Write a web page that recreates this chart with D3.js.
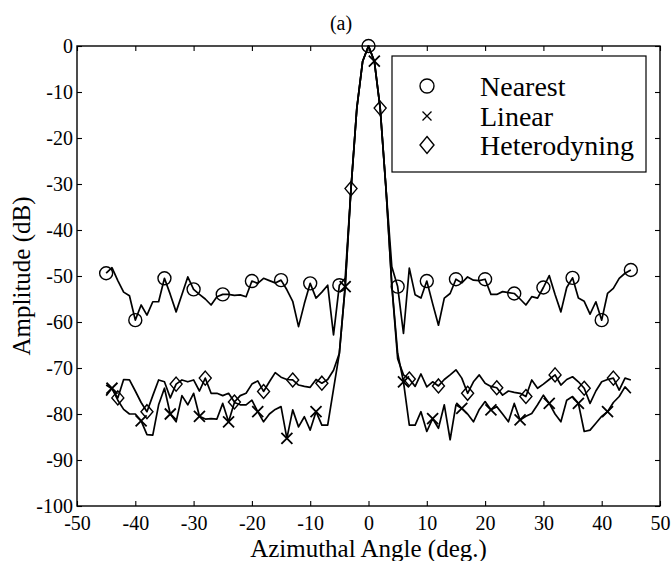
<!DOCTYPE html>
<html>
<head>
<meta charset="utf-8">
<script src="https://cdn.jsdelivr.net/npm/d3@7"></script>
<style>
  body { margin: 0; background: #fff; }
  svg { display: block; }
  svg text { font-family: "Liberation Serif", "Times New Roman", "DejaVu Serif", serif; fill: #000; }
</style>
</head>
<body>
<div id="chart"></div>
<script>
// angoli campionati (gradi)
const angles = [
  -45, -44, -43, -42, -41, -40, -39, -38, -37, -36,
  -35, -34, -33, -32, -31, -30, -29, -28, -27, -26,
  -25, -24, -23, -22, -21, -20, -19, -18, -17, -16,
  -15, -14, -13, -12, -11, -10, -9, -8, -7, -6,
  -5, -4, -3, -2, -1, 0, 1, 2, 3, 4,
  5, 6, 7, 8, 9, 10, 11, 12, 13, 14,
  15, 16, 17, 18, 19, 20, 21, 22, 23, 24,
  25, 26, 27, 28, 29, 30, 31, 32, 33, 34,
  35, 36, 37, 38, 39, 40, 41, 42, 43, 44,
  45
];

// ampiezza (dB) per ogni metodo
const nearest = [
  -49.4, -48.2, -51, -53.5, -54.3, -59.6, -56.3, -58.5, -55.6, -55.6,
  -50.5, -54, -57.8, -54, -50.2, -52.9, -54, -55, -56.3, -54.5,
  -54, -54, -54.2, -54.1, -54.5, -51.1, -51.6, -50.5, -51, -51.5,
  -50.9, -53, -55.5, -61, -56, -51.6, -54.8, -53.5, -52, -62.8,
  -52, -50.5, -31, -13.5, -3.3, 0, -3.3, -13.5, -31, -48,
  -52.3, -62.5, -48.3, -54.1, -54.8, -51.1, -56, -60.7, -54.8, -53.8,
  -50.7, -51.5, -50.2, -50.9, -51, -50.7, -54, -54, -53.4, -53.6,
  -53.8, -55, -56.3, -54.5, -54.8, -52.5, -49.9, -54, -57.8, -52.5,
  -50.4, -54.8, -55.5, -58.3, -55.6, -59.6, -53.8, -52.7, -50.5, -49.4,
  -48.7
];

const linear = [
  -76, -74.4, -77, -79, -80, -80, -81.5, -84.5, -84.6, -78,
  -74.4, -80, -81.7, -76, -78, -75.5, -80.5, -81.1, -81, -81.1,
  -77.7, -81.7, -77.5, -78, -78, -77, -79.5, -81.7, -80, -79,
  -78.4, -85.3, -79.1, -82.8, -80.6, -83.5, -79.5, -82.4, -82.4, -74.6,
  -66.8, -52.3, -31, -13.5, -3.3, 0, -3.3, -13.5, -31, -52,
  -66.8, -73, -82.4, -82.4, -79.5, -83.8, -81, -83.1, -78, -85.6,
  -78, -78.8, -80, -81.7, -79, -77.3, -79.1, -78.4, -80, -81.7,
  -77.7, -81.3, -80.5, -79.9, -78, -75.9, -77.7, -80, -81.7, -77,
  -76.2, -77.7, -83.8, -83.5, -82, -80.5, -79.5, -77.5, -76.2, -74.1,
  -75.5
];

const heterodyning = [
  -73.7, -74.5, -76.5, -72.5, -72.6, -75, -77.5, -79.5, -76, -72.6,
  -73, -76.5, -73.5, -72.6, -73, -72.6, -75, -72.2, -75.5, -75.5,
  -76, -75.5, -77.4, -76, -75.5, -73.5, -72.8, -75.1, -73, -71,
  -72, -72.5, -72.6, -73.7, -74, -74.2, -72.5, -73.3, -72.5, -70.5,
  -66.8, -52.3, -31, -13.5, -3.3, 0, -3.3, -13.5, -31, -52,
  -68, -71.5, -72.4, -74, -71.3, -74.1, -73, -73.9, -72.5, -71.5,
  -70.4, -72.2, -75.5, -73, -71.5, -73.3, -74, -74.3, -75.9, -75,
  -75.3, -75.5, -76.2, -72.6, -74.4, -73.5, -72.5, -71.5, -73.7, -72.5,
  -71.9, -73, -74.4, -77.7, -75, -73, -72.5, -72.2, -74.8, -72.2,
  -72.6
];

// angoli dove compaiono i marcatori
const nearestMarks = [-45, -40, -35, -30, -25, -20, -15, -10, -5, 0, 5, 10, 15, 20, 25, 30, 35, 40, 45];
const linearMarks = [-44, -39, -34, -29, -24, -19, -14, -9, -4, 1, 6, 11, 16, 21, 26, 31, 36, 41];
const heteroMarks = [-43, -38, -33, -28, -23, -18, -13, -8, -3, 2, 7, 12, 17, 22, 27, 32, 37, 42];

const xTicks = [-50, -40, -30, -20, -10, 0, 10, 20, 30, 40, 50];
const yTicks = [-100, -90, -80, -70, -60, -50, -40, -30, -20, -10, 0];
const legendLabels = ['Nearest', 'Linear', 'Heterodyning'];

const W = 671, H = 561;
const box = { left: 77, right: 660, top: 46, bottom: 506 };
const serif = '"Liberation Serif", "Times New Roman", "DejaVu Serif", serif';

const svg = d3.select('#chart').append('svg')
  .attr('width', W).attr('height', H);

const x = d3.scaleLinear().domain([-50, 50]).range([box.left, box.right]);
const y = d3.scaleLinear().domain([-100, 0]).range([box.bottom, box.top]);

// assi con tacche verso l'interno, come in matlab (trattino semplice per il meno)
const fmt = d => String(d);
svg.append('g')
  .attr('transform', `translate(0,${box.bottom})`)
  .call(d3.axisBottom(x).tickValues(xTicks).tickSizeInner(-5).tickSizeOuter(0).tickPadding(10).tickFormat(fmt));
svg.append('g')
  .attr('transform', `translate(${box.left},0)`)
  .call(d3.axisLeft(y).tickValues(yTicks).tickSizeInner(-5).tickSizeOuter(0).tickPadding(4).tickFormat(fmt));
svg.append('g')
  .attr('transform', `translate(0,${box.top})`)
  .call(d3.axisTop(x).tickValues(xTicks).tickSizeInner(-5).tickSizeOuter(0).tickFormat(''));
svg.append('g')
  .attr('transform', `translate(${box.right},0)`)
  .call(d3.axisRight(y).tickValues(yTicks).tickSizeInner(-5).tickSizeOuter(0).tickFormat(''));

svg.selectAll('.domain').remove();
svg.selectAll('.tick line').attr('stroke', '#000').attr('stroke-width', 1.1);
svg.selectAll('.tick text')
  .attr('fill', '#000')
  .attr('font-family', serif)
  .attr('font-size', 20);

// cornice
svg.append('rect')
  .attr('x', box.left).attr('y', box.top)
  .attr('width', box.right - box.left).attr('height', box.bottom - box.top)
  .attr('fill', 'none').attr('stroke', '#000').attr('stroke-width', 1.4);

// linee delle tre serie
const line = d3.line()
  .x((d, i) => x(angles[i]))
  .y(d => y(d));

[nearest, linear, heterodyning].forEach(series => {
  svg.append('path')
    .datum(series)
    .attr('d', line)
    .attr('fill', 'none')
    .attr('stroke', '#000')
    .attr('stroke-width', 1.7)
    .attr('stroke-linejoin', 'round');
});

// funzioni per i marcatori
function drawCircle(g, cx, cy, r) {
  g.append('circle').attr('cx', cx).attr('cy', cy).attr('r', r)
    .attr('fill', 'none').attr('stroke', '#000').attr('stroke-width', 1.4);
}
function drawCross(g, cx, cy, s, w) {
  g.append('path')
    .attr('d', `M${cx - s},${cy - s}L${cx + s},${cy + s}M${cx - s},${cy + s}L${cx + s},${cy - s}`)
    .attr('stroke', '#000').attr('stroke-width', w).attr('fill', 'none');
}
function drawDiamond(g, cx, cy, sx, sy) {
  g.append('path')
    .attr('d', `M${cx},${cy - sy}L${cx + sx},${cy}L${cx},${cy + sy}L${cx - sx},${cy}Z`)
    .attr('stroke', '#000').attr('stroke-width', 1.4).attr('fill', 'none');
}

const valueAt = (series, a) => series[angles.indexOf(a)];
const marks = svg.append('g');
nearestMarks.forEach(a => drawCircle(marks, x(a), y(valueAt(nearest, a)), 6.5));
linearMarks.forEach(a => drawCross(marks, x(a), y(valueAt(linear, a)), 5.5, 1.8));
heteroMarks.forEach(a => drawDiamond(marks, x(a), y(valueAt(heterodyning, a)), 6, 7));

// legenda
const leg = svg.append('g');
leg.append('rect')
  .attr('x', 392).attr('y', 56).attr('width', 254).attr('height', 116)
  .attr('fill', '#fff').attr('stroke', '#000').attr('stroke-width', 1.2);
const rowY = [86, 116, 145];
drawCircle(leg, 427, rowY[0], 7);
drawCross(leg, 427, rowY[1], 4.5, 1.3);
drawDiamond(leg, 427, rowY[2], 7, 8.5);
leg.selectAll('text.lab')
  .data(legendLabels)
  .join('text')
  .attr('class', 'lab')
  .attr('x', 480)
  .attr('y', (d, i) => rowY[i] + 9.5)
  .attr('font-size', 28)
  .text(d => d);

// titolo ed etichette degli assi
svg.append('text')
  .attr('x', 341).attr('y', 30)
  .attr('text-anchor', 'middle')
  .attr('font-size', 20)
  .text('(a)');

svg.append('text')
  .attr('x', (box.left + box.right) / 2).attr('y', 557)
  .attr('text-anchor', 'middle')
  .attr('font-size', 25)
  .text('Azimuthal Angle (deg.)');

svg.append('text')
  .attr('transform', 'rotate(-90)')
  .attr('x', -(box.top + box.bottom) / 2).attr('y', 30)
  .attr('text-anchor', 'middle')
  .attr('font-size', 25)
  .text('Amplitude (dB)');
</script>
</body>
</html>
